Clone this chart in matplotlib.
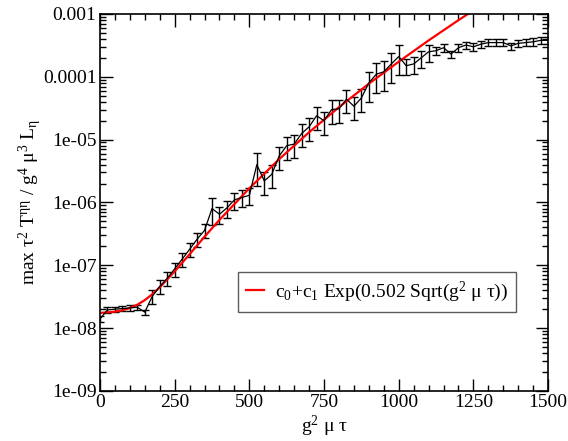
import numpy as np
import matplotlib
matplotlib.use("Agg")
import matplotlib.pyplot as plt
from matplotlib.ticker import FixedLocator, FixedFormatter, MultipleLocator, LogLocator, NullFormatter

plt.rcParams['font.family'] = ['Liberation Serif', 'DejaVu Serif']
plt.rcParams['mathtext.fontset'] = 'custom'
plt.rcParams['mathtext.rm'] = 'Liberation Serif'
plt.rcParams['mathtext.it'] = 'Liberation Serif:italic'

# data
tau = np.arange(0, 1501, 25)
vals = [1.4e-8, 1.95e-8, 2.0e-8, 2.05e-8, 2.1e-8, 2.15e-8, 1.8e-8, 3.2e-8, 4.6e-8, 6.2e-8,
        8.8e-8, 1.25e-7, 1.8e-7, 2.6e-7, 3.6e-7, 8.0e-7, 6.5e-7, 8.2e-7, 1.1e-6, 1.2e-6,
        1.3e-6, 4.0e-6, 2.2e-6, 2.8e-6, 5.5e-6, 8.0e-6, 8.5e-6, 1.25e-5, 1.6e-5, 2.4e-5,
        2.0e-5, 3.0e-5, 3.1e-5, 4.4e-5, 3.4e-5, 4.6e-5, 8.0e-5, 1.1e-4, 1.2e-4, 1.6e-4,
        2.1e-4, 1.5e-4, 1.6e-4, 2.0e-4, 2.5e-4, 2.6e-4, 2.9e-4, 2.3e-4, 2.9e-4, 3.2e-4,
        3.0e-4, 3.3e-4, 3.5e-4, 3.5e-4, 3.5e-4, 3.1e-4, 3.4e-4, 3.5e-4, 3.6e-4, 3.8e-4,
        3.8e-4]
rel_err = [0.1] * 7 + [0.25] * 8 + [0.45] + [0.3] * 5 + [0.55] + [0.4] * 14 + [0.5] * 5 + \
          [0.3] * 4 + [0.13] * 16

# fit curve c0+c1 Exp(0.502 Sqrt(g^2 mu tau))
fit_x = [0, 25, 50, 75, 100, 125, 150, 175, 200, 250, 300, 350, 400, 500, 600, 700, 800,
         900, 1000, 1100, 1200, 1250]
fit_y = [1.75e-8, 1.78e-8, 1.83e-8, 1.92e-8, 2.09e-8, 2.36e-8, 2.79e-8, 3.46e-8, 4.45e-8,
         7.99e-8, 1.50e-7, 2.85e-7, 5.29e-7, 1.68e-6, 4.9e-6, 1.31e-5, 3.28e-5, 7.76e-5,
         1.74e-4, 3.79e-4, 7.96e-4, 1.14e-3]

ytick_vals = [1e-9, 1e-8, 1e-7, 1e-6, 1e-5, 1e-4, 1e-3]
ytick_labels = ['1e-09', '1e-08', '1e-07', '1e-06', '1e-05', '0.0001', '0.001']

fig = plt.figure(figsize=(5.68, 4.41), dpi=100)
ax = fig.add_axes([0.176, 0.1134, 0.789, 0.855])

v = np.array(vals)
ax.errorbar(tau, v, yerr=v * np.array(rel_err), color='black', lw=0.9, elinewidth=1.0,
            capsize=3.2, capthick=1.0)
ax.plot(fit_x, fit_y, color='red', lw=1.6,
        label=r'c$_{\mathrm{0}}$+c$_{\mathrm{1}}$ Exp(0.502 Sqrt(g$^{\mathrm{2}}$ μ τ))')

ax.set_yscale('log')
ax.set_xlim(0, 1500)
ax.set_ylim(1e-9, 1e-3)
ax.xaxis.set_major_locator(MultipleLocator(250))
ax.xaxis.set_minor_locator(MultipleLocator(50))
ax.yaxis.set_major_locator(FixedLocator(ytick_vals))
ax.yaxis.set_major_formatter(FixedFormatter(ytick_labels))
ax.yaxis.set_minor_locator(LogLocator(base=10, subs=np.arange(2, 10)))
ax.yaxis.set_minor_formatter(NullFormatter())
ax.tick_params(which='both', direction='in', top=True, right=True, labelsize=14, width=1.0,
               pad=2.5)
ax.tick_params(which='major', length=9)
ax.tick_params(which='minor', length=4.5)
for s in ax.spines.values():
    s.set_linewidth(1.2)

ax.set_xlabel(r'g$^{\mathrm{2}}$ μ τ', fontsize=14, labelpad=2)
ax.set_ylabel(r'max τ$^{\mathrm{2}}$ T$^{\mathrm{ηη}}$ / g$^{\mathrm{4}}$ μ$^{\mathrm{3}}$ L$_{\mathrm{η}}$',
              fontsize=14, labelpad=-1)

leg = ax.legend(loc='center', bbox_to_anchor=(0.618, 0.263), fontsize=14, frameon=True,
                fancybox=False, handlelength=0.95, handletextpad=0.55, borderpad=0.4,
                borderaxespad=0)
leg.get_frame().set_edgecolor('#333333')
leg.get_frame().set_linewidth(1.0)

fig.savefig('out.png', dpi=100)
